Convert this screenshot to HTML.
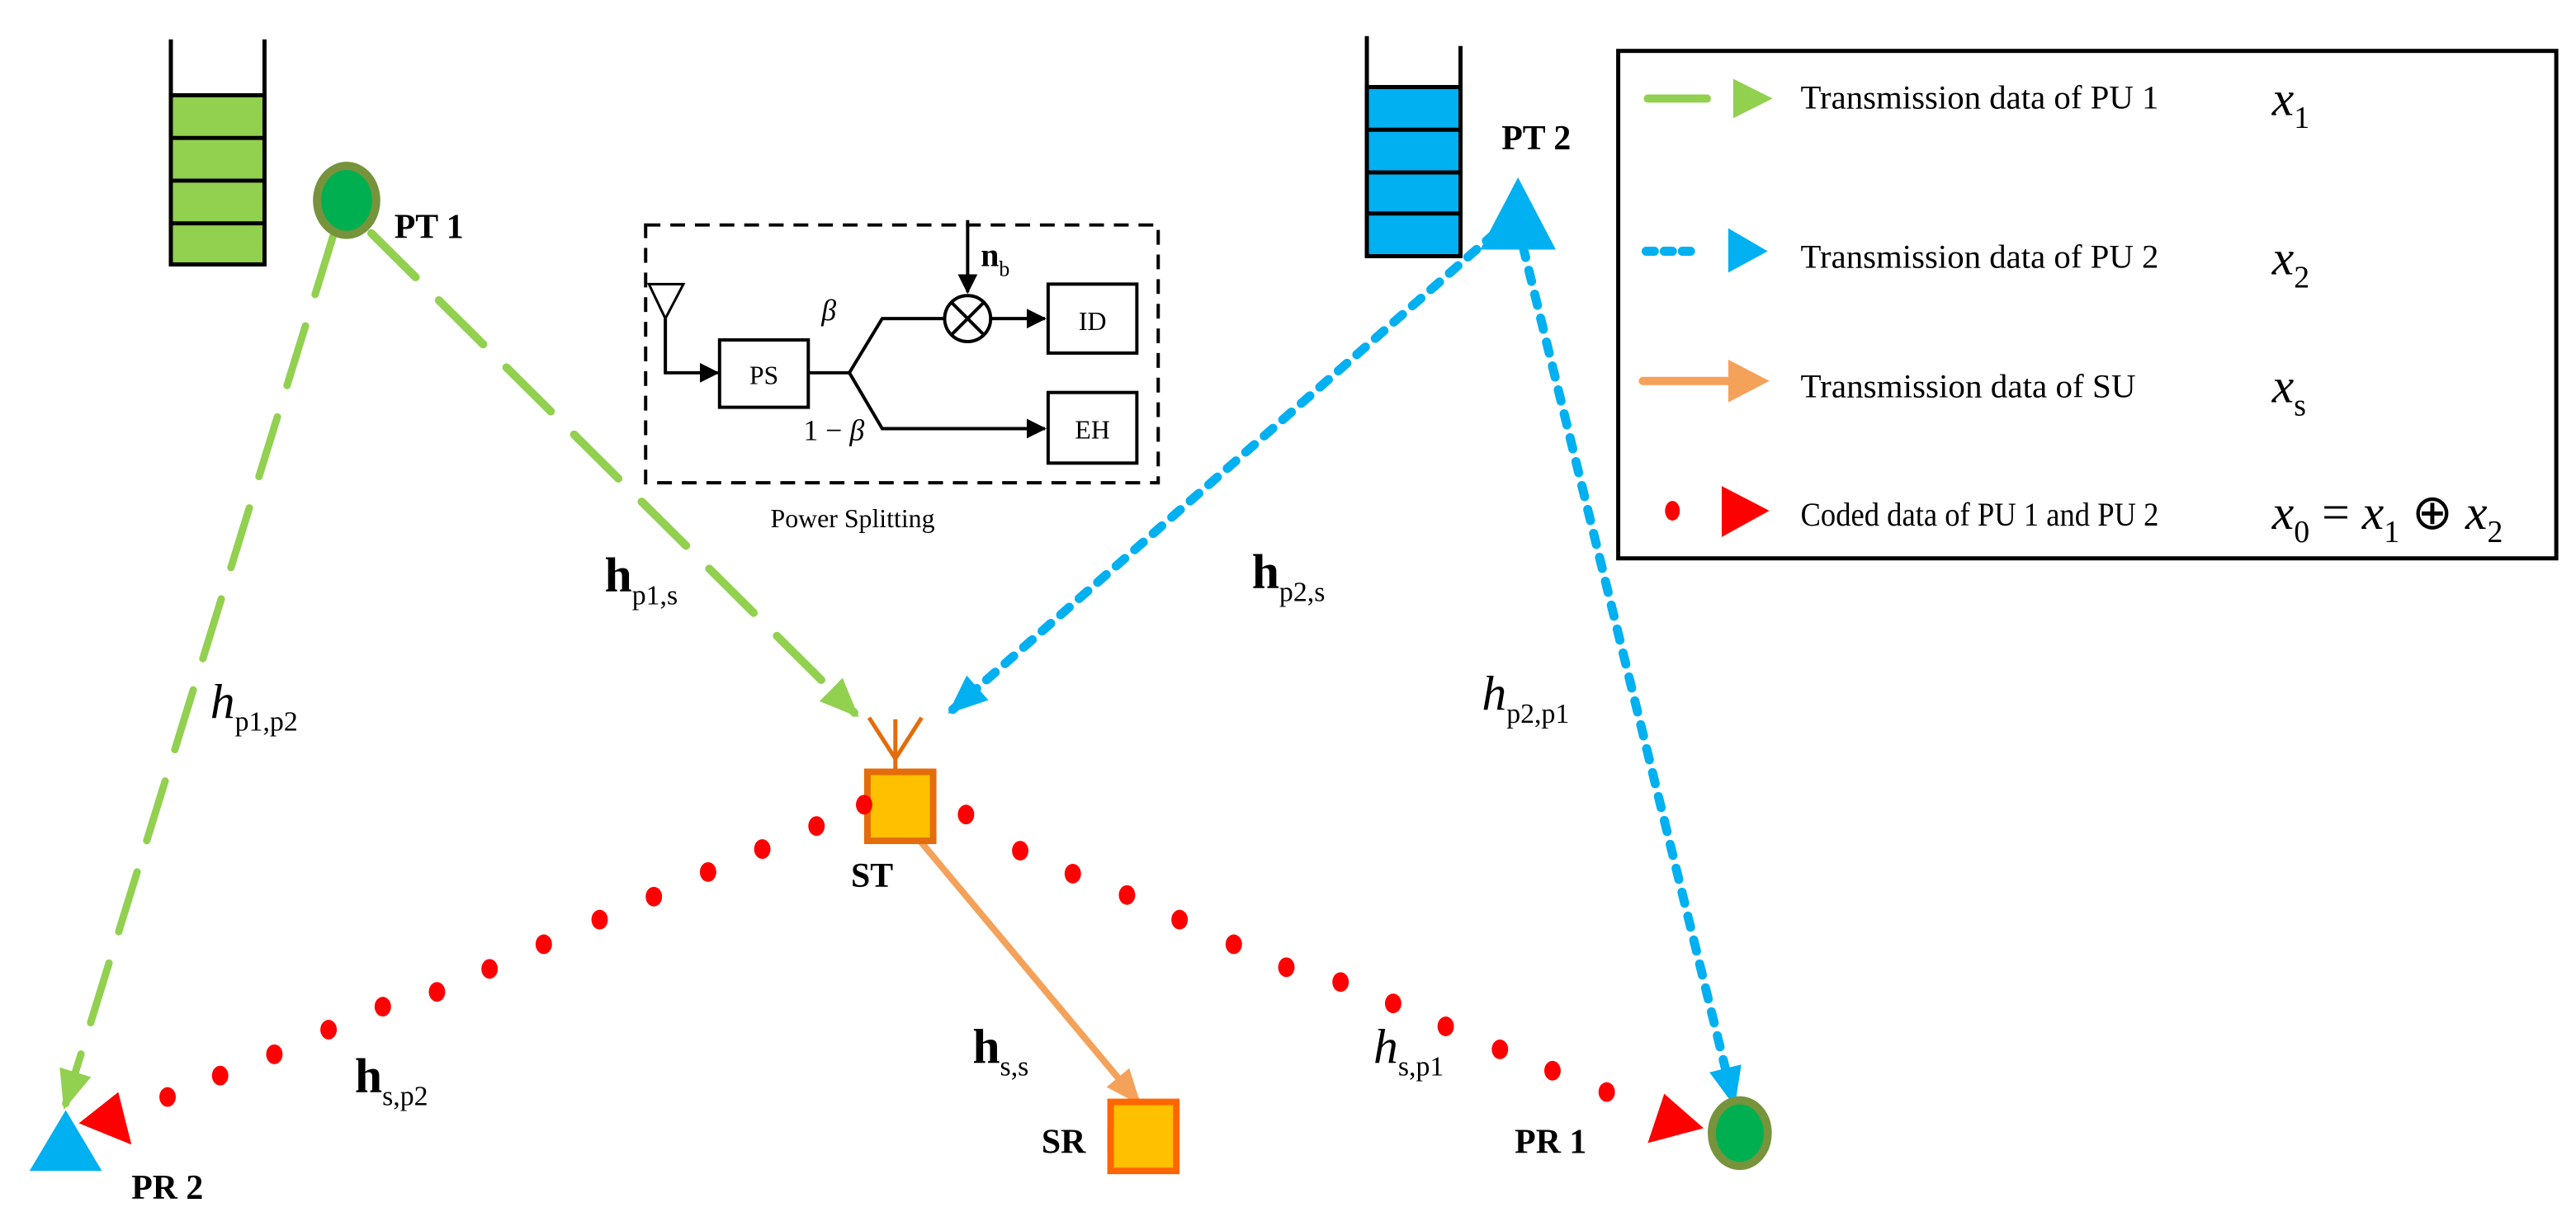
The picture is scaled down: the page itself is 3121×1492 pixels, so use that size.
<!DOCTYPE html>
<html><head><meta charset="utf-8"><style>
html,body{margin:0;padding:0;background:#fff;}
svg{display:block;}
text{font-family:"Liberation Serif",serif;}
</style></head><body>
<svg width="3121" height="1492" viewBox="0 0 1568 749.6" preserveAspectRatio="none" xmlns="http://www.w3.org/2000/svg">
<defs>
<marker id="ag" markerWidth="24" markerHeight="20" refX="20" refY="10" orient="auto" markerUnits="userSpaceOnUse" viewBox="0 0 24 20"><path d="M0,0 L24,10 L0,20 Z" fill="#92D050"/></marker>
<marker id="ab" markerWidth="24" markerHeight="20" refX="20" refY="10" orient="auto" markerUnits="userSpaceOnUse" viewBox="0 0 24 20"><path d="M0,0 L24,10 L0,20 Z" fill="#00B0F0"/></marker>
<marker id="ao" markerWidth="22" markerHeight="18" refX="18" refY="9" orient="auto" markerUnits="userSpaceOnUse" viewBox="0 0 22 18"><path d="M0,0 L22,9 L0,18 Z" fill="#F4A15A"/></marker>
<marker id="ak" markerWidth="12" markerHeight="12" refX="11" refY="6" orient="auto" markerUnits="userSpaceOnUse" viewBox="0 0 12 12"><path d="M0,0 L12,6 L0,12 Z" fill="#000"/></marker>
</defs>
<!-- green stack -->
<g stroke="#000" stroke-width="2.5">
<path d="M104,24 V161 H161 V24" fill="none"/>
<rect x="104" y="58" width="57" height="103" fill="#92D050"/>
<line x1="104" y1="84" x2="161" y2="84"/><line x1="104" y1="110" x2="161" y2="110"/><line x1="104" y1="136" x2="161" y2="136"/>
</g>
<!-- blue stack -->
<g stroke="#000" stroke-width="2.5">
<path d="M832,22 V156 H889 V28" fill="none"/>
<rect x="832" y="53" width="57" height="103" fill="#00B0F0"/>
<line x1="832" y1="79" x2="889" y2="79"/><line x1="832" y1="105" x2="889" y2="105"/><line x1="832" y1="130" x2="889" y2="130"/>
</g>
<!-- green dashed -->
<line x1="226" y1="142" x2="520" y2="434" stroke="#92D050" stroke-width="5" stroke-dasharray="38,20" stroke-linecap="round" marker-end="url(#ag)"/>
<line x1="203" y1="143" x2="40" y2="672" stroke="#92D050" stroke-width="4.5" stroke-dasharray="38,20" stroke-linecap="round" marker-end="url(#ag)"/>
<!-- blue dotted -->
<line x1="910" y1="142" x2="580" y2="432" stroke="#00B0F0" stroke-width="5.5" stroke-dasharray="7,8" stroke-linecap="round" marker-end="url(#ab)"/>
<line x1="927" y1="150" x2="1055" y2="670" stroke="#00B0F0" stroke-width="5.5" stroke-dasharray="7,8" stroke-linecap="round" marker-end="url(#ab)"/>
<!-- orange arrow -->
<line x1="560" y1="512" x2="692" y2="670" stroke="#F4A15A" stroke-width="4" marker-end="url(#ao)"/>
<!-- PT1 -->
<ellipse cx="211" cy="122" rx="18" ry="21" fill="#00B050" stroke="#77933C" stroke-width="5"/>
<text x="240" y="145" font-size="21" font-weight="bold">PT 1</text>
<!-- PT2 -->
<polygon points="924,108 901,152 947,152" fill="#00B0F0"/>
<text x="914" y="91" font-size="21" font-weight="bold">PT 2</text>
<!-- Power splitting -->
<rect x="393" y="137" width="312" height="157" fill="none" stroke="#000" stroke-width="2" stroke-dasharray="9,6"/>
<polygon points="395,173 416,173 405,194" fill="none" stroke="#000" stroke-width="1.5"/>
<polyline points="405,194 405,227 437,227" fill="none" stroke="#000" stroke-width="2" marker-end="url(#ak)"/>
<rect x="438" y="207" width="54" height="41" fill="#fff" stroke="#000" stroke-width="2"/>
<text x="465" y="234" font-size="16" text-anchor="middle">PS</text>
<polyline points="492,227 517,227 537,194 575,194" fill="none" stroke="#000" stroke-width="2"/>
<polyline points="517,227 537,261 636,261" fill="none" stroke="#000" stroke-width="2" marker-end="url(#ak)"/>
<circle cx="589" cy="194" r="14" fill="#fff" stroke="#000" stroke-width="2"/>
<line x1="579" y1="184" x2="599" y2="204" stroke="#000" stroke-width="2"/>
<line x1="599" y1="184" x2="579" y2="204" stroke="#000" stroke-width="2"/>
<line x1="589" y1="134" x2="589" y2="178" stroke="#000" stroke-width="2" marker-end="url(#ak)"/>
<line x1="603" y1="194" x2="636" y2="194" stroke="#000" stroke-width="2" marker-end="url(#ak)"/>
<text x="597" y="162" font-size="20" font-weight="bold">n<tspan font-size="13" font-weight="normal" dy="6">b</tspan></text>
<rect x="638" y="173" width="54" height="42" fill="#fff" stroke="#000" stroke-width="2"/>
<text x="665" y="201" font-size="16" text-anchor="middle">ID</text>
<rect x="638" y="239" width="54" height="43" fill="#fff" stroke="#000" stroke-width="2"/>
<text x="665" y="267" font-size="16" text-anchor="middle">EH</text>
<text x="500" y="195" font-size="18" font-style="italic">β</text>
<text x="489" y="268" font-size="18">1 − <tspan font-style="italic">β</tspan></text>
<text x="519" y="321" font-size="16" text-anchor="middle">Power Splitting</text>
<!-- channel labels -->
<text x="368" y="360" font-size="30" font-weight="bold">h<tspan font-size="17" font-weight="normal" dy="8">p1,s</tspan></text>
<text x="762" y="358" font-size="30" font-weight="bold">h<tspan font-size="17" font-weight="normal" dy="8">p2,s</tspan></text>
<text x="128" y="437" font-size="30" font-style="italic">h<tspan font-size="17" font-style="normal" dy="8">p1,p2</tspan></text>
<text x="902" y="432" font-size="30" font-style="italic">h<tspan font-size="17" font-style="normal" dy="8">p2,p1</tspan></text>
<text x="216" y="665" font-size="30" font-weight="bold">h<tspan font-size="17" font-weight="normal" dy="8">s,p2</tspan></text>
<text x="592" y="647" font-size="30" font-weight="bold">h<tspan font-size="17" font-weight="normal" dy="8">s,s</tspan></text>
<text x="836" y="647" font-size="30" font-style="italic">h<tspan font-size="17" font-style="normal" dy="8">s,p1</tspan></text>
<!-- ST -->
<g stroke="#E46C0A" stroke-width="2.5" fill="none">
<line x1="545" y1="438" x2="545" y2="470"/>
<line x1="529" y1="437" x2="545" y2="462"/>
<line x1="561" y1="437" x2="545" y2="462"/>
</g>
<rect x="528" y="470" width="40" height="42" fill="#FFC000" stroke="#E46C0A" stroke-width="4"/>
<text x="518" y="540" font-size="21" font-weight="bold">ST</text>
<!-- SR -->
<rect x="676" y="671" width="40" height="42" fill="#FFC000" stroke="#FF6600" stroke-width="4"/>
<text x="634" y="702" font-size="21" font-weight="bold">SR</text>
<!-- PR2 -->
<polygon points="40,676 18,713 62,713" fill="#00B0F0"/>
<text x="80" y="730" font-size="21" font-weight="bold">PR 2</text>
<!-- PR1 -->
<ellipse cx="1059" cy="690" rx="17" ry="20" fill="#00B050" stroke="#77933C" stroke-width="5"/>
<text x="922" y="702" font-size="21" font-weight="bold">PR 1</text>
<!-- red dots -->
<g fill="#FF0000">
<ellipse cx="526" cy="490" rx="5" ry="6"/>
<ellipse cx="497" cy="503" rx="5" ry="6"/><ellipse cx="464" cy="517" rx="5" ry="6"/><ellipse cx="431" cy="531" rx="5" ry="6"/><ellipse cx="398" cy="546" rx="5" ry="6"/><ellipse cx="365" cy="560" rx="5" ry="6"/><ellipse cx="331" cy="575" rx="5" ry="6"/><ellipse cx="298" cy="590" rx="5" ry="6"/><ellipse cx="266" cy="604" rx="5" ry="6"/><ellipse cx="233" cy="613" rx="5" ry="6"/><ellipse cx="200" cy="627" rx="5" ry="6"/><ellipse cx="167" cy="642" rx="5" ry="6"/><ellipse cx="134" cy="655" rx="5" ry="6"/><ellipse cx="102" cy="668" rx="5" ry="6"/>
<ellipse cx="588" cy="496" rx="5" ry="6"/><ellipse cx="621" cy="518" rx="5" ry="6"/><ellipse cx="653" cy="532" rx="5" ry="6"/><ellipse cx="686" cy="545" rx="5" ry="6"/><ellipse cx="718" cy="560" rx="5" ry="6"/><ellipse cx="751" cy="575" rx="5" ry="6"/><ellipse cx="783" cy="589" rx="5" ry="6"/><ellipse cx="816" cy="598" rx="5" ry="6"/><ellipse cx="848" cy="611" rx="5" ry="6"/><ellipse cx="880" cy="625" rx="5" ry="6"/><ellipse cx="913" cy="639" rx="5" ry="6"/><ellipse cx="945" cy="652" rx="5" ry="6"/><ellipse cx="978" cy="665" rx="5" ry="6"/>
</g>
<polygon points="48,684 72,665 80,697" fill="#FF0000"/>
<polygon points="1037,687 1013,666 1003,696" fill="#FF0000"/>
<!-- legend -->
<rect x="985" y="31" width="571" height="309" fill="none" stroke="#000" stroke-width="2.5"/>
<line x1="1003" y1="60" x2="1039" y2="60" stroke="#92D050" stroke-width="5" stroke-linecap="round"/>
<polygon points="1055,48 1079,60 1055,72" fill="#92D050"/>
<line x1="1002" y1="153" x2="1035" y2="153" stroke="#00B0F0" stroke-width="5.5" stroke-dasharray="5,6" stroke-linecap="round"/>
<polygon points="1052,139 1076,153 1052,166" fill="#00B0F0"/>
<line x1="1000" y1="232" x2="1052" y2="232" stroke="#F4A15A" stroke-width="5" stroke-linecap="round"/>
<polygon points="1052,219 1077,232 1052,245" fill="#F4A15A"/>
<ellipse cx="1018" cy="311" rx="4.5" ry="6" fill="#FF0000"/>
<polygon points="1048,296 1077,311 1048,327" fill="#FF0000"/>
<g font-size="20">
<text x="1096" y="66" textLength="218" lengthAdjust="spacingAndGlyphs">Transmission data of PU 1</text>
<text x="1096" y="163" textLength="218" lengthAdjust="spacingAndGlyphs">Transmission data of PU 2</text>
<text x="1096" y="242" textLength="204" lengthAdjust="spacingAndGlyphs">Transmission data of SU</text>
<text x="1096" y="320" textLength="218" lengthAdjust="spacingAndGlyphs">Coded data of PU 1 and PU 2</text>
</g>
<g font-size="30">
<text x="1383" y="70"><tspan font-style="italic">x</tspan><tspan font-size="19" dy="8">1</tspan></text>
<text x="1383" y="167"><tspan font-style="italic">x</tspan><tspan font-size="19" dy="8">2</tspan></text>
<text x="1383" y="245"><tspan font-style="italic">x</tspan><tspan font-size="19" dy="8">s</tspan></text>
<text x="1383" y="322"><tspan font-style="italic">x</tspan><tspan font-size="19" dy="8">0</tspan><tspan dy="-8"> = </tspan><tspan font-style="italic">x</tspan><tspan font-size="19" dy="8">1</tspan><tspan dy="-8"> ⊕ </tspan><tspan font-style="italic">x</tspan><tspan font-size="19" dy="8">2</tspan></text>
</g>
</svg>
</body></html>
